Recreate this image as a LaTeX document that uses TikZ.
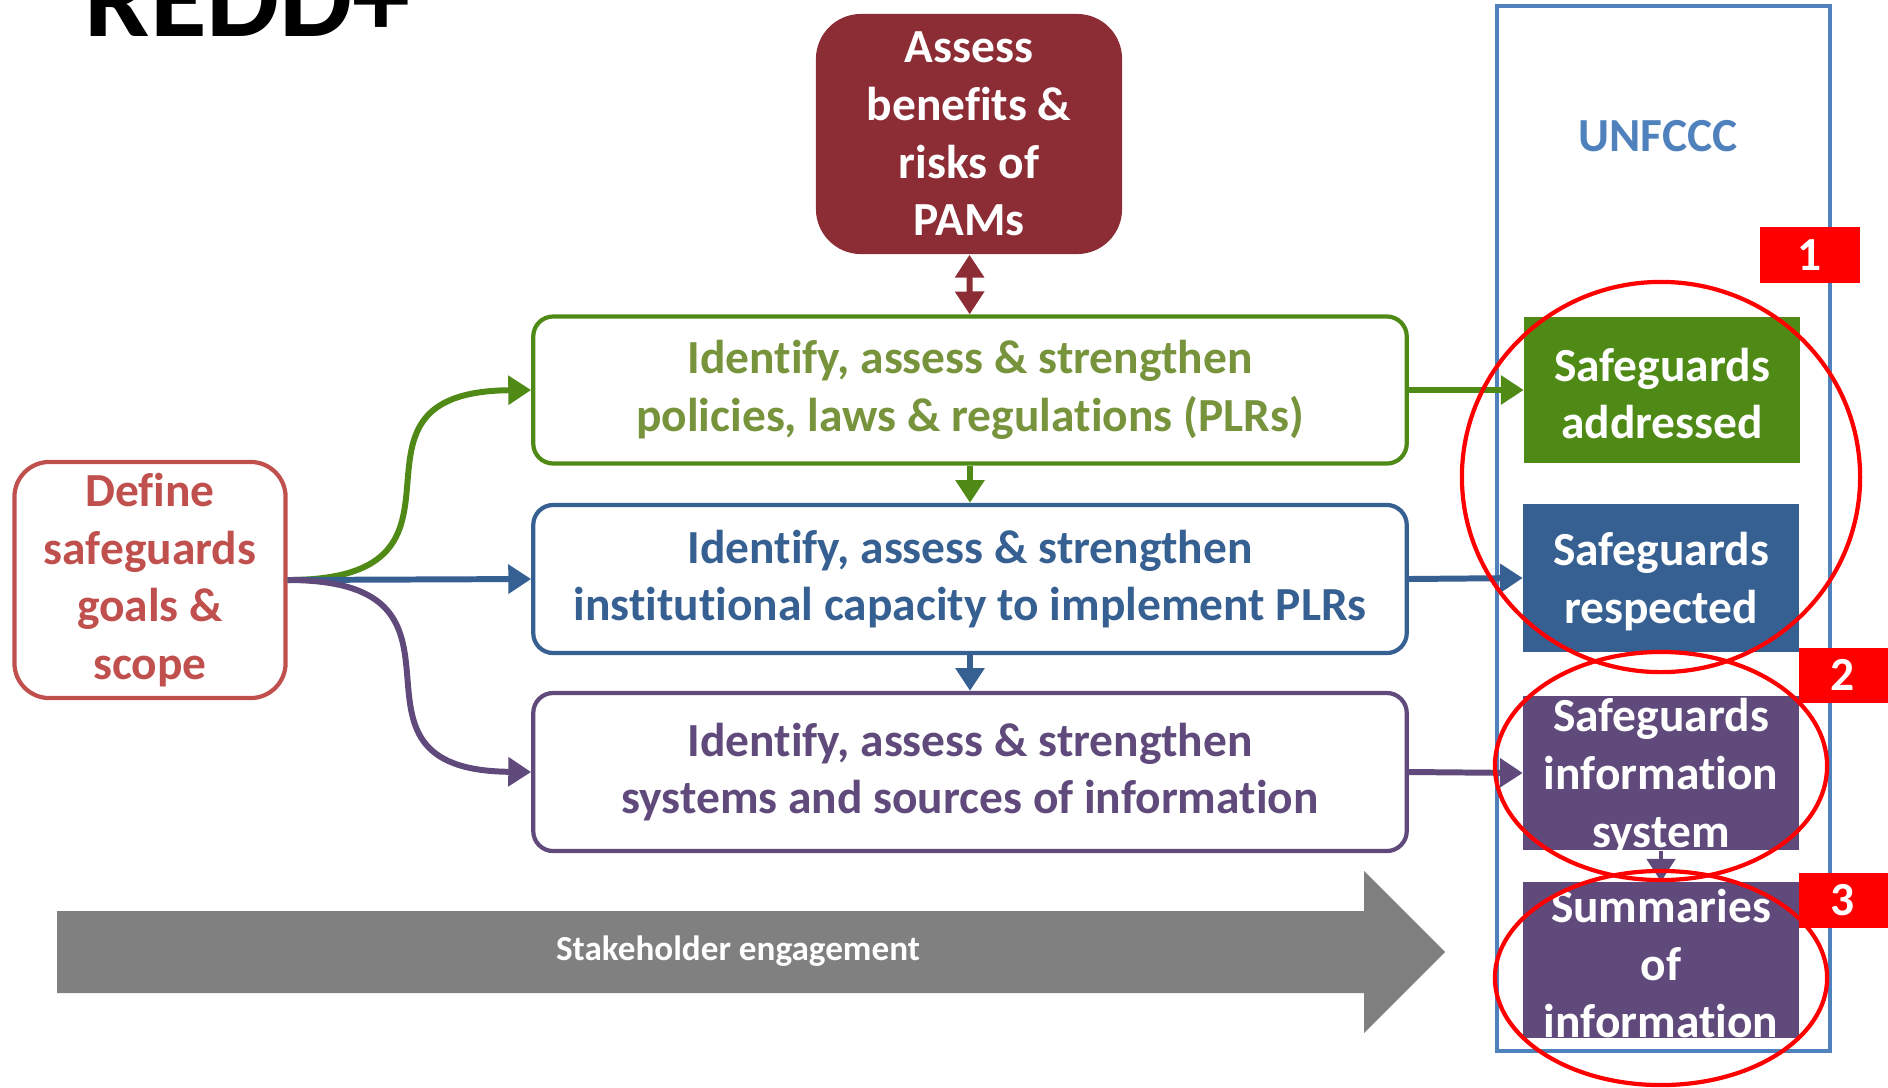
\documentclass[tikz,border=0pt]{standalone}
\usepackage{fontspec}
\setmainfont{Carlito}[Ligatures=NoCommon]
\usepackage{tikz}
\usetikzlibrary{arrows.meta}

\definecolor{pamred}{HTML}{8C2D36}
\definecolor{plrgreen}{HTML}{4F8A16}
\definecolor{plrtext}{HTML}{77933C}
\definecolor{capblue}{HTML}{376092}
\definecolor{infopurple}{HTML}{5F4A7B}
\definecolor{goalred}{HTML}{C0504D}
\definecolor{frameblue}{HTML}{4F81BD}
\definecolor{engagegrey}{HTML}{808080}

\tikzset{
	txt/.style={font=\fontsize{13.5}{16.4}\selectfont\bfseries, align=center},
	stepbox/.style={txt, draw=#1, line width=1.2pt, rounded corners=0.2cm, fill=white,
		minimum width=8.73cm, inner sep=0pt},
	outbox/.style={fill=#1, minimum width=2.75cm, inner sep=0pt},
	boxtext/.style={txt, text=white, inner sep=0pt, yshift=-1pt},
	tag/.style={fill=red, text=white, txt, minimum height=0.55cm, inner sep=0pt},
	link/.style={line width=1.7pt, -{Triangle[length=6.5pt,width=8pt]}},
	ring/.style={draw=red, line width=1.2pt}
}

\begin{document}
\begin{tikzpicture}[x=0.01cm,y=-0.01cm]
		\useasboundingbox (0,0) rectangle (1888,1087);

		% Title
		\node[anchor=base west, inner sep=0pt, font=\fontsize{33}{40}\selectfont\bfseries] (title) at (84,36) {REDD+};

		% Left and top boxes
		\node[txt, draw=goalred, text=goalred, line width=1.2pt, rounded corners=0.35cm,
			minimum width=2.71cm, minimum height=2.36cm, inner sep=0pt] (goal) at (150,580)
			{Define\\safeguards\\goals \&\\scope};
		\node[txt, fill=pamred, text=white, rounded corners=0.45cm,
			minimum width=3.06cm, minimum height=2.40cm, inner sep=0pt] (pam) at (969,134)
			{Assess\\benefits \&\\risks of\\PAMs};

		% Middle column
		\node[stepbox=plrgreen, text=plrtext, minimum height=1.47cm] (plr) at (970,390)
			{Identify, assess \& strengthen\\policies, laws \& regulations (PLRs)};
		\node[stepbox=capblue, text=capblue, minimum height=1.48cm] (cap) at (970,579)
			{Identify, assess \& strengthen\\institutional capacity to implement PLRs};
		\node[stepbox=infopurple, text=infopurple, minimum height=1.58cm] (info) at (970,772)
			{Identify, assess \& strengthen\\systems and sources of information};

		% Stakeholder engagement
		\fill[engagegrey] (57,911) -- (1364,911) -- (1364,871) -- (1445,952)
			-- (1364,1033) -- (1364,993) -- (57,993) -- cycle;
		\node[text=white, font=\fontsize{10}{12}\selectfont\bfseries] (engage) at (738,951)
			{Stakeholder engagement};

		% UNFCCC column
		\draw[frameblue, line width=1.3pt] (1497,6) rectangle (1830,1051);
		\node[txt, text=frameblue] (unfccc) at (1658,136) {UNFCCC};
		\node[outbox=plrgreen, minimum height=1.45cm,
			label={[boxtext]center:Safeguards\\addressed}] (addr) at (1662,390) {};
		\node[outbox=capblue, minimum height=1.47cm,
			label={[boxtext]center:Safeguards\\respected}] (resp) at (1661,578) {};
		\node[outbox=infopurple, minimum height=1.54cm,
			label={[boxtext]center:Safeguards\\information\\system}] (sis) at (1661,773) {};
		\node[outbox=infopurple, minimum height=1.55cm,
			label={[boxtext]center:Summaries\\of\\information}] (soi) at (1661,960) {};

		% Connectors
		\draw[link, pamred, {Triangle[length=6.5pt,width=8pt]}-{Triangle[length=6.5pt,width=8pt]}] (pam) -- (plr);
		\draw[link, plrgreen] (plr) -- (cap);
		\draw[link, capblue] (cap) -- (info);
		\draw[link, plrgreen] (goal.east) .. controls (505,580) and (315,392) .. (plr.west);
		\draw[link, capblue] (goal.east) -- (cap.west);
		\draw[link, infopurple] (goal.east) .. controls (505,580) and (315,770) .. (info.west);
		\draw[link, plrgreen] (plr.east) -- (addr.west);
		\draw[link, capblue] (cap.east) -- (resp.west);
		\draw[link, infopurple] (info.east) -- (sis.west);
		\draw[link, infopurple, line width=1.2pt] (sis) -- (soi);

		% Highlights
		\draw[ring] (1661,477) ellipse [x radius=1.99cm, y radius=1.95cm];
		\draw[ring] (1661,766) ellipse [x radius=1.66cm, y radius=1.14cm];
		\draw[ring] (1661,978) ellipse [x radius=1.66cm, y radius=1.07cm];
		\node[tag, minimum width=0.99cm] (one) at (1810,255) {1};
		\node[tag, minimum width=0.89cm] (two) at (1843,675) {2};
		\node[tag, minimum width=0.89cm] (three) at (1843,900) {3};
\end{tikzpicture}
\end{document}
